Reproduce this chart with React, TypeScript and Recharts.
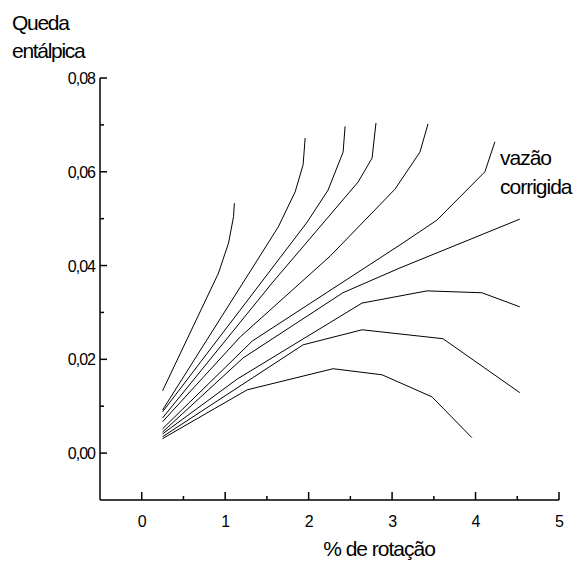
import React from 'react';
import { LineChart, Line, XAxis, YAxis } from 'recharts';

// x: % de rotação, y: queda entálpica
const curve1 = [[0.25, 0.0133], [0.92, 0.0384], [1.04, 0.0448], [1.1, 0.0504], [1.11, 0.0533]];
const curve2 = [[0.25, 0.0092], [1.635, 0.0482], [1.838, 0.0557], [1.934, 0.0615], [1.958, 0.0672]];
const curve3 = [[0.25, 0.0088], [1.984, 0.0493], [2.233, 0.0561], [2.413, 0.0642], [2.437, 0.0697]];
const curve4 = [[0.25, 0.0075], [1.563, 0.0363], [2.592, 0.0578], [2.76, 0.0629], [2.807, 0.0704]];
const curve5 = [[0.25, 0.0067], [1.181, 0.0248], [2.257, 0.042], [3.035, 0.0563], [3.334, 0.0642], [3.43, 0.0702]];
const curve6 = [[0.25, 0.0052], [1.324, 0.0239], [3.095, 0.0444], [3.538, 0.0497], [4.112, 0.06], [4.232, 0.0664]];
const curve7 = [[0.25, 0.0045], [1.215, 0.0203], [2.411, 0.0342], [3.095, 0.0395], [4.53, 0.0499]];
const curve8 = [[0.25, 0.0041], [1.145, 0.0158], [2.64, 0.032], [3.418, 0.0346], [4.076, 0.0342], [4.53, 0.0312]];
const curve9 = [[0.25, 0.0035], [1.934, 0.0231], [2.64, 0.0263], [3.609, 0.0244], [4.53, 0.0129]];
const curve10 = [[0.25, 0.0031], [1.264, 0.0135], [2.293, 0.018], [2.88, 0.0167], [3.478, 0.012], [3.956, 0.0033]];

const curves = [curve1, curve2, curve3, curve4, curve5, curve6, curve7, curve8, curve9, curve10];

const xTicks = [0, 0.5, 1, 1.5, 2, 2.5, 3, 3.5, 4, 4.5, 5];
const yTicks = [0, 0.01, 0.02, 0.03, 0.04, 0.05, 0.06, 0.07, 0.08];

const xTitle = '% de rotação';
const yTitle = ['Queda', 'entálpica'];
const curveLabel = ['vazão', 'corrigida'];

const FONT = '"Liberation Sans", Arial, sans-serif';

function XTick(props: any) {
  const { x, y, payload } = props;
  const v = payload.value as number;
  const major = Math.abs(v - Math.round(v)) < 1e-9;
  return (
    <g>
      <line x1={x} y1={y} x2={x} y2={y - (major ? 8 : 4)} stroke="#000" strokeWidth={1.5} />
      {major && (
        <text x={x} y={y + 27} textAnchor="middle" fontSize={16} fontFamily={FONT} fill="#000" letterSpacing={-1}>
          {String(Math.round(v))}
        </text>
      )}
    </g>
  );
}

function YTick(props: any) {
  const { x, y, payload } = props;
  const v = payload.value as number;
  const major = Math.round(v * 100) % 2 === 0;
  return (
    <g>
      <line x1={x} y1={y} x2={x + (major ? 7 : 4)} y2={y} stroke="#000" strokeWidth={1.5} />
      {major && (
        <text x={x - 5} y={y + 6} textAnchor="end" fontSize={16} fontFamily={FONT} fill="#000" letterSpacing={-1}>
          {v.toFixed(2).replace('.', ',')}
        </text>
      )}
    </g>
  );
}

export default function App() {
  return (
    <div style={{ position: 'absolute', left: 0, top: 0, width: 583, height: 567, background: '#fff' }}>
      <LineChart width={583} height={567} margin={{ top: 78, right: 24, bottom: 0, left: 0 }}>
        <XAxis
          type="number"
          dataKey="x"
          domain={[-0.5, 5]}
          ticks={xTicks}
          interval={0}
          allowDataOverflow
          height={67}
          tickSize={0}
          tickMargin={0}
          tickLine={false}
          axisLine={{ stroke: '#000', strokeWidth: 1.5 }}
          tick={<XTick />}
        />
        <YAxis
          type="number"
          dataKey="y"
          domain={[-0.01, 0.08]}
          ticks={yTicks}
          interval={0}
          allowDataOverflow
          width={100}
          tickSize={0}
          tickMargin={0}
          tickLine={false}
          axisLine={{ stroke: '#000', strokeWidth: 1.5 }}
          tick={<YTick />}
        />
        {curves.map((c, i) => (
          <Line
            key={i}
            data={c.map(([x, y]) => ({ x, y }))}
            dataKey="y"
            type="linear"
            dot={false}
            activeDot={false}
            stroke="#000"
            strokeWidth={1}
            isAnimationActive={false}
          />
        ))}
      </LineChart>
      <svg width={583} height={567} style={{ position: 'absolute', left: 0, top: 0, pointerEvents: 'none' }}>
        <text x={12} y={30} fontSize={21} fontFamily={FONT} fill="#000" letterSpacing={-1.3}>{yTitle[0]}</text>
        <text x={12} y={58} fontSize={21} fontFamily={FONT} fill="#000" letterSpacing={-1.3}>{yTitle[1]}</text>
        <text x={500} y={165} fontSize={21} fontFamily={FONT} fill="#000" letterSpacing={-1}>{curveLabel[0]}</text>
        <text x={500} y={194} fontSize={21} fontFamily={FONT} fill="#000" letterSpacing={-1}>{curveLabel[1]}</text>
        <text x={379} y={556} textAnchor="middle" fontSize={21} fontFamily={FONT} fill="#000" letterSpacing={-1}>{xTitle}</text>
      </svg>
    </div>
  );
}
